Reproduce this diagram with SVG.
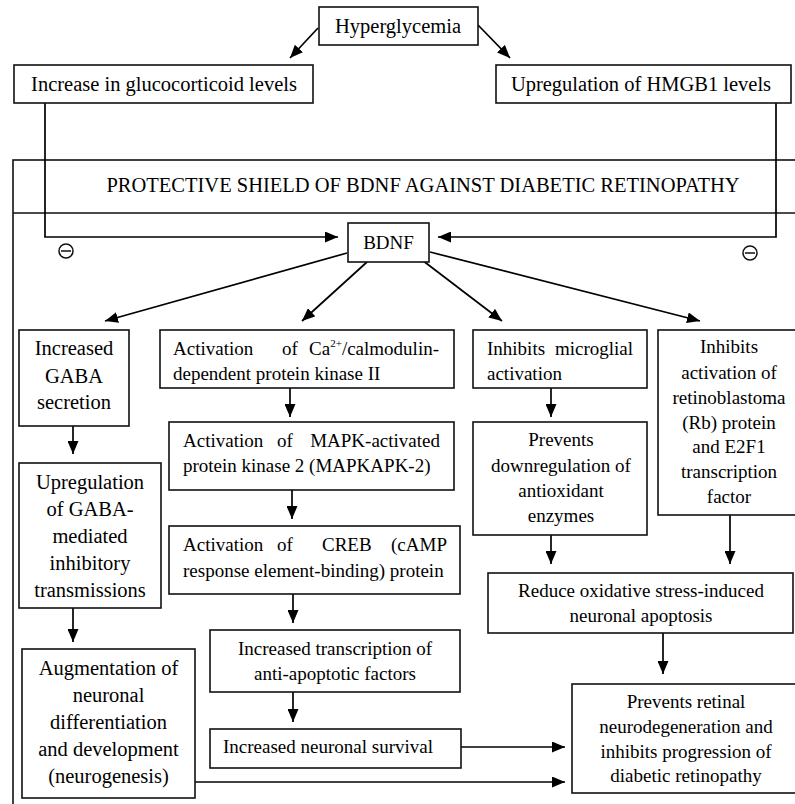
<svg xmlns="http://www.w3.org/2000/svg" width="795" height="804" viewBox="0 0 795 804">
<style>
.box{fill:#fff;stroke:#111;stroke-width:1.6}
.frame{fill:none;stroke:#111;stroke-width:1.6}
.t{font-family:"Liberation Serif","Times New Roman",serif;font-size:20.5px;fill:#000}
.s{font-size:19px}
.c{text-anchor:middle}
.e{text-anchor:end}
.sup{font-size:11px}
.con line,.con path{stroke:#000;stroke-width:1.7;fill:none}
.mk{fill:none;stroke:#111;stroke-width:1.5}
</style>
<defs>
<marker id="ah" markerUnits="userSpaceOnUse" markerWidth="13" markerHeight="11" refX="13" refY="5.5" orient="auto">
<path d="M0,0 L13,5.5 L0,11 Z" fill="#000"/>
</marker>
</defs>
<rect width="795" height="804" fill="#fff"/>

<g id="shield">
<rect class="frame" x="13" y="160" width="800" height="660"/>
<line class="frame" x1="13" y1="213" x2="795" y2="213"/>
<text class="t c" x="423" y="192">PROTECTIVE SHIELD OF BDNF AGAINST DIABETIC RETINOPATHY</text>
</g>

<g class="con" id="connectors">
<line x1="318" y1="28" x2="290" y2="58" marker-end="url(#ah)"/>
<line x1="478" y1="25" x2="510" y2="58" marker-end="url(#ah)"/>
<path d="M45,103 V237 H338" marker-end="url(#ah)"/>
<path d="M776,103 V237 H438" marker-end="url(#ah)"/>
<line x1="347" y1="253" x2="105" y2="321" marker-end="url(#ah)"/>
<line x1="367" y1="262" x2="302" y2="321" marker-end="url(#ah)"/>
<line x1="422" y1="260" x2="502" y2="321" marker-end="url(#ah)"/>
<line x1="430" y1="252" x2="700" y2="321" marker-end="url(#ah)"/>
<line x1="73" y1="426" x2="73" y2="454" marker-end="url(#ah)"/>
<line x1="73" y1="608" x2="73" y2="642" marker-end="url(#ah)"/>
<line x1="290" y1="388" x2="290" y2="417" marker-end="url(#ah)"/>
<line x1="292" y1="490" x2="292" y2="519" marker-end="url(#ah)"/>
<line x1="293" y1="594" x2="293" y2="623" marker-end="url(#ah)"/>
<line x1="293" y1="692" x2="293" y2="722" marker-end="url(#ah)"/>
<line x1="461" y1="747" x2="565" y2="747" marker-end="url(#ah)"/>
<line x1="195" y1="782" x2="565" y2="782" marker-end="url(#ah)"/>
<line x1="551" y1="388" x2="551" y2="417" marker-end="url(#ah)"/>
<line x1="551" y1="535" x2="551" y2="564" marker-end="url(#ah)"/>
<line x1="730" y1="515" x2="730" y2="564" marker-end="url(#ah)"/>
<line x1="663" y1="633" x2="663" y2="674" marker-end="url(#ah)"/>
</g>

<g id="inhibit-marks">
<circle class="mk" cx="66" cy="251" r="7"/>
<line class="mk" x1="61" y1="251" x2="71" y2="251"/>
<circle class="mk" cx="750" cy="253" r="7"/>
<line class="mk" x1="745" y1="253" x2="755" y2="253"/>
</g>

<g id="hyperglycemia">
<rect class="box" x="319" y="7" width="159" height="38"/>
<text class="t c" x="398" y="33">Hyperglycemia</text>
</g>

<g id="glucocorticoid">
<rect class="box" x="14" y="65" width="299" height="38"/>
<text class="t c" x="164" y="91">Increase in glucocorticoid levels</text>
</g>

<g id="hmgb1">
<rect class="box" x="496" y="65" width="295" height="38"/>
<text class="t c" x="641" y="91">Upregulation of HMGB1 levels</text>
</g>

<g id="bdnf">
<rect class="box" x="348" y="223" width="81" height="39"/>
<text class="t s c" x="388.5" y="249">BDNF</text>
</g>

<g id="gaba-secretion">
<rect class="box" x="19" y="330" width="110" height="96"/>
<text class="t c" x="74" y="355">Increased</text>
<text class="t c" x="74" y="383">GABA</text>
<text class="t c" x="74" y="409">secretion</text>
</g>

<g id="gaba-transmission">
<rect class="box" x="19" y="463" width="142" height="145"/>
<text class="t c" x="90" y="489">Upregulation</text>
<text class="t c" x="90" y="516">of GABA-</text>
<text class="t c" x="90" y="543">mediated</text>
<text class="t c" x="90" y="570">inhibitory</text>
<text class="t c" x="90" y="597">transmissions</text>
</g>

<g id="neurogenesis">
<rect class="box" x="22" y="649" width="173" height="149"/>
<text class="t c" x="108.5" y="675">Augmentation of</text>
<text class="t c" x="108.5" y="702">neuronal</text>
<text class="t c" x="108.5" y="729">differentiation</text>
<text class="t c" x="108.5" y="756">and development</text>
<text class="t c" x="108.5" y="783">(neurogenesis)</text>
</g>

<g id="camkii">
<rect class="box" x="160" y="330" width="294" height="58"/>
<text class="t s" x="173" y="355">Activation</text>
<text class="t s" x="282" y="355">of</text>
<text class="t s e" x="439" y="355">Ca<tspan class="sup" dy="-8">2+</tspan><tspan dy="8">/calmodulin-</tspan></text>
<text class="t s" x="173" y="380">dependent protein kinase II</text>
</g>

<g id="mapkapk2">
<rect class="box" x="169" y="422" width="285" height="68"/>
<text class="t s" x="183" y="447">Activation</text>
<text class="t s" x="277" y="447">of</text>
<text class="t s e" x="440" y="447">MAPK-activated</text>
<text class="t s" x="183" y="472">protein kinase 2 (MAPKAPK-2)</text>
</g>

<g id="creb">
<rect class="box" x="169" y="526" width="291" height="68"/>
<text class="t s" x="183" y="551">Activation</text>
<text class="t s" x="277" y="551">of</text>
<text class="t s" x="322" y="551">CREB</text>
<text class="t s e" x="447" y="551">(cAMP</text>
<text class="t s" x="183" y="577">response element-binding) protein</text>
</g>

<g id="antiapoptotic">
<rect class="box" x="210" y="630" width="250" height="62"/>
<text class="t s c" x="335" y="655">Increased transcription of</text>
<text class="t s c" x="335" y="680">anti-apoptotic factors</text>
</g>

<g id="survival">
<rect class="box" x="210" y="729" width="251" height="39"/>
<text class="t s c" x="328" y="753">Increased neuronal survival</text>
</g>

<g id="microglia">
<rect class="box" x="473" y="330" width="174" height="58"/>
<text class="t s" x="487" y="355">Inhibits</text>
<text class="t s e" x="633" y="355">microglial</text>
<text class="t s" x="487" y="380">activation</text>
</g>

<g id="antioxidant">
<rect class="box" x="473" y="422" width="174" height="113"/>
<text class="t s c" x="561" y="446">Prevents</text>
<text class="t s c" x="561" y="472">downregulation of</text>
<text class="t s c" x="561" y="497">antioxidant</text>
<text class="t s c" x="561" y="522">enzymes</text>
</g>

<g id="rb-e2f1">
<rect class="box" x="658" y="330" width="142" height="185"/>
<text class="t s c" x="729" y="353">Inhibits</text>
<text class="t s c" x="729" y="379">activation of</text>
<text class="t s c" x="729" y="404">retinoblastoma</text>
<text class="t s c" x="729" y="429">(Rb) protein</text>
<text class="t s c" x="729" y="453">and E2F1</text>
<text class="t s c" x="729" y="478">transcription</text>
<text class="t s c" x="729" y="503">factor</text>
</g>

<g id="oxidative">
<rect class="box" x="488" y="573" width="305" height="60"/>
<text class="t s c" x="641" y="597">Reduce oxidative stress-induced</text>
<text class="t s c" x="641" y="622">neuronal apoptosis</text>
</g>

<g id="outcome">
<rect class="box" x="572" y="684" width="230" height="109"/>
<text class="t s c" x="686" y="708">Prevents retinal</text>
<text class="t s c" x="686" y="733">neurodegeneration and</text>
<text class="t s c" x="686" y="758">inhibits progression of</text>
<text class="t s c" x="686" y="782">diabetic retinopathy</text>
</g>
</svg>
